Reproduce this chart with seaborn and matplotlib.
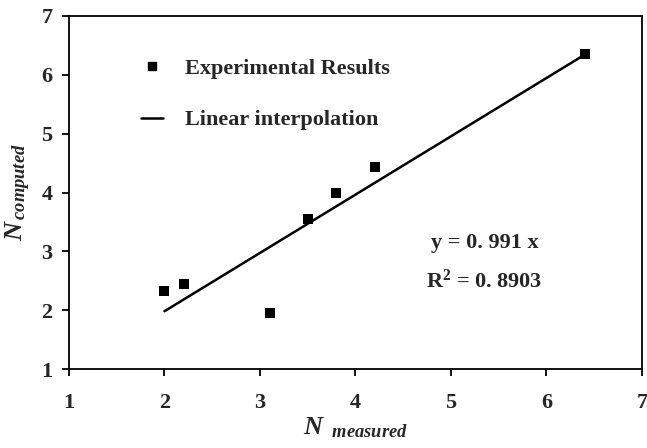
import matplotlib
matplotlib.use("Agg")
import matplotlib.pyplot as plt
import seaborn as sns
import numpy as np
import pandas as pd
from matplotlib.lines import Line2D

# Data
n_measured = [2.0, 2.2, 3.1, 3.5, 3.8, 4.2, 6.4]
n_computed = [2.33, 2.44, 1.96, 3.55, 4.0, 4.43, 6.35]
fit_slope = 0.991
fit_x = [2.0, 6.4]
fit_y = [fit_slope * v for v in fit_x]
x_ticks = [1, 2, 3, 4, 5, 6, 7]
y_ticks = [1, 2, 3, 4, 5, 6, 7]

sns.set_theme(style="white")
plt.rcParams['font.family'] = ['Liberation Serif', 'DejaVu Serif']
plt.rcParams['font.weight'] = 'bold'
plt.rcParams['mathtext.fontset'] = 'custom'
plt.rcParams['mathtext.it'] = 'Liberation Serif:italic:bold'
plt.rcParams['mathtext.rm'] = 'Liberation Serif:bold'
plt.rcParams['mathtext.bf'] = 'Liberation Serif:bold'

fig = plt.figure(figsize=(6.47, 4.48), dpi=100)
ax = fig.add_axes([0.1066, 0.1763, 0.8856, 0.788])

df_pts = pd.DataFrame({"x": n_measured, "y": n_computed})
df_fit = pd.DataFrame({"x": fit_x, "y": fit_y})

sns.lineplot(data=df_fit, x="x", y="y", ax=ax, color="black", linewidth=1.8)
sns.scatterplot(data=df_pts, x="x", y="y", ax=ax, marker="s", s=42,
                color="black", edgecolor="black", linewidth=0)

ax.set_xlim(1, 7)
ax.set_ylim(1, 7)
ax.set_xticks(x_ticks)
ax.set_yticks(y_ticks)
ax.set_xticklabels([str(t) for t in x_ticks], fontsize=16, fontweight='bold')
ax.set_yticklabels([str(t) for t in y_ticks], fontsize=16, fontweight='bold')
ax.tick_params(axis='both', direction='out', length=5, width=1.3, color='black',
               bottom=True, left=True)
ax.tick_params(axis='x', pad=12)
ax.tick_params(axis='y', pad=7)
for sp in ax.spines.values():
    sp.set_color('black')
    sp.set_linewidth(1.3)

ax.set_xlabel(r'$N_{\ \ measured}$', fontsize=19, labelpad=2)
ax.set_ylabel(r'$N_{\,computed}$', fontsize=19, labelpad=6)

handles = [
    Line2D([], [], marker='s', linestyle='None', color='black', markersize=6),
    Line2D([], [], color='black', linewidth=1.8),
]
leg = ax.legend(handles, ['Experimental Results', 'Linear interpolation'],
                loc='upper left', bbox_to_anchor=(0.09, 0.937), frameon=False,
                prop={'family': 'Liberation Serif', 'weight': 'bold', 'size': 16},
                labelspacing=1.4, handlelength=1.0, handletextpad=1.0)

ax.text(0.725, 0.358, 'y = 0. 991 x', transform=ax.transAxes, ha='center',
        va='center', fontsize=16, fontweight='bold')
ax.text(0.725, 0.249, r'R$^{\mathrm{2}}$ = 0. 8903', transform=ax.transAxes,
        ha='center', va='center', fontsize=16, fontweight='bold')

fig.savefig("out.png", dpi=100)
